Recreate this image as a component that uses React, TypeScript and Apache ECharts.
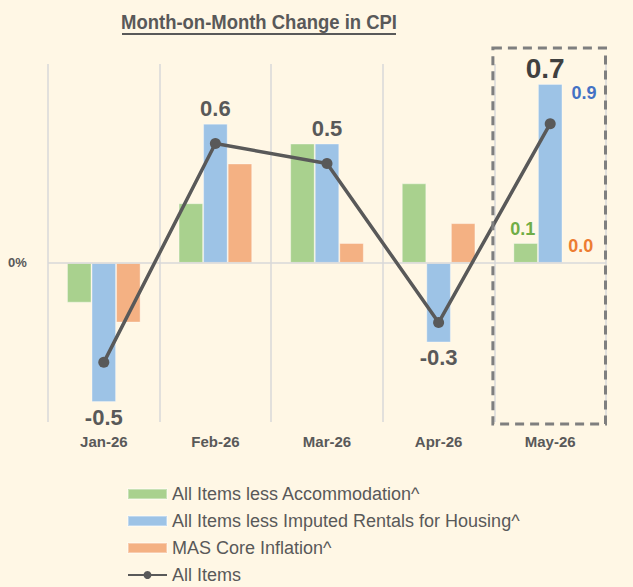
import React, { useEffect, useRef } from "react";
import * as echarts from "echarts";

const categories = ["Jan-26", "Feb-26", "Mar-26", "Apr-26", "May-26"];
const lessAccommodation = [-0.2, 0.3, 0.6, 0.4, 0.1];
const lessImputedRentals = [-0.7, 0.7, 0.6, -0.4, 0.9];
const masCore = [-0.3, 0.5, 0.1, 0.2, 0.0];
const allItems = [-0.5, 0.6, 0.5, -0.3, 0.7];

const seriesNames = [
  "All Items less Accommodation^",
  "All Items less Imputed Rentals for Housing^",
  "MAS Core Inflation^",
  "All Items",
];

const FONT = "'Liberation Sans', Arial, sans-serif";
const GRAY = "#595959";
const GREEN = "#A9D18E";
const BLUE = "#9DC3E6";
const ORANGE = "#F4B183";

export default function App() {
  const ref = useRef<HTMLDivElement>(null);

  useEffect(() => {
    document.body.style.margin = "0";
    if (!ref.current) return;
    const chart = echarts.init(ref.current, null, { renderer: "svg" });
    const last = categories.length - 1;

    const blueData = lessImputedRentals.map((v, i) => {
      if (i < last) {
        return {
          value: v,
          label: {
            show: true,
            position: v >= 0 ? "top" : "bottom",
            distance: 4,
            formatter: () => allItems[i].toFixed(1),
            color: GRAY,
            fontSize: 22,
            fontWeight: "bold",
            fontFamily: FONT,
          },
        };
      }
      return {
        value: v,
        label: {
          show: true,
          position: ["100%", 0],
          offset: [9, 0],
          formatter: () => v.toFixed(1),
          color: "#4472C4",
          fontSize: 18,
          fontWeight: "bold",
          fontFamily: FONT,
        },
      };
    });

    const greenData = lessAccommodation.map((v, i) =>
      i === last
        ? {
            value: v,
            label: {
              show: true,
              position: "top",
              distance: 5,
              formatter: () => v.toFixed(1),
              color: "#70AD47",
              fontSize: 18,
              fontWeight: "bold",
              fontFamily: FONT,
              offset: [-3, 0],
            },
          }
        : v
    );

    const orangeData = masCore.map((v, i) =>
      i === last
        ? {
            value: v,
            label: {
              show: true,
              position: "top",
              distance: 7,
              formatter: () => v.toFixed(1),
              color: "#ED7D31",
              fontSize: 18,
              fontWeight: "bold",
              fontFamily: FONT,
              offset: [6, 0],
            },
          }
        : v
    );

    const lineData = allItems.map((v, i) =>
      i === last
        ? {
            value: v,
            label: {
              show: true,
              position: "top",
              distance: 36,
              formatter: () => v.toFixed(1),
              color: "#404040",
              fontSize: 28,
              fontWeight: "bold",
              fontFamily: FONT,
              offset: [-5, 0],
            },
          }
        : v
    );

    chart.setOption({
      animation: false,
      backgroundColor: "#FFF7E5",
      textStyle: { fontFamily: FONT },
      grid: { left: 48, right: 27, top: 64, bottom: 165, containLabel: false },
      graphic: [
        {
          type: "text",
          id: "title",
          x: 259,
          y: 22,
          scaleX: 0.88,
          style: {
            text: "Month-on-Month Change in CPI",
            font: `bold 21px ${FONT}`,
            fill: GRAY,
            textAlign: "center",
            textVerticalAlign: "middle",
          },
        },
        {
          type: "line",
          id: "underline",
          shape: { x1: 122, y1: 34, x2: 396, y2: 34 },
          style: { stroke: GRAY, lineWidth: 2 },
        },
      ],
      legend: {
        orient: "vertical",
        left: 127,
        top: 484,
        padding: 0,
        height: 103,
        itemWidth: 39,
        itemHeight: 10,
        itemGap: 7,
        textStyle: { color: GRAY, fontSize: 18, fontFamily: FONT, lineHeight: 20 },
        data: [
          { name: seriesNames[0], icon: "rect" },
          { name: seriesNames[1], icon: "rect" },
          { name: seriesNames[2], icon: "rect" },
          { name: seriesNames[3] },
        ],
      },
      xAxis: {
        type: "category",
        data: categories,
        boundaryGap: true,
        axisLine: { show: false, onZero: false },
        axisTick: { show: false },
        axisLabel: {
          color: GRAY,
          fontSize: 15,
          fontWeight: "bold",
          fontFamily: FONT,
          margin: 12,
        },
        splitLine: {
          show: true,
          interval: 0,
          lineStyle: { color: "#D9D9D9", width: 1.5 },
        },
      },
      yAxis: {
        type: "value",
        min: -0.8,
        max: 1.0,
        interval: 0.2,
        axisLine: { show: false },
        axisTick: { show: false },
        splitLine: { show: false },
        axisLabel: {
          align: "left",
          margin: 40,
          color: GRAY,
          fontSize: 13,
          fontWeight: "bold",
          fontFamily: FONT,
          formatter: (v: number) => (Math.abs(v) < 1e-9 ? "0%" : ""),
        },
      },
      series: [
        {
          name: seriesNames[0],
          type: "bar",
          data: greenData,
          barGap: "0%",
          barCategoryGap: "34%",
          itemStyle: { color: GREEN, borderColor: "rgba(255,255,255,0.35)", borderWidth: 1 },
          markLine: {
            silent: true,
            symbol: "none",
            animation: false,
            label: { show: false },
            lineStyle: { color: "#D9D9D9", type: "solid", width: 1.5 },
            data: [{ yAxis: 0 }],
          },
        },
        {
          name: seriesNames[1],
          type: "bar",
          data: blueData,
          barGap: "0%",
          barCategoryGap: "34%",
          itemStyle: { color: BLUE, borderColor: "rgba(255,255,255,0.35)", borderWidth: 1 },
        },
        {
          name: seriesNames[2],
          type: "bar",
          data: orangeData,
          barGap: "0%",
          barCategoryGap: "34%",
          itemStyle: { color: ORANGE, borderColor: "rgba(255,255,255,0.35)", borderWidth: 1 },
        },
        {
          name: seriesNames[3],
          type: "line",
          data: lineData,
          z: 5,
          symbol: "circle",
          symbolSize: 11,
          lineStyle: { color: GRAY, width: 3.5 },
          itemStyle: { color: GRAY },
        },
      ],
    });

    // Dashed highlight box around the last category, positioned via the axes
    const pMay = chart.convertToPixel({ gridIndex: 0 }, [categories[last], 1.0]) as number[];
    const pApr = chart.convertToPixel({ gridIndex: 0 }, [categories[last - 1], -0.8]) as number[];
    const band = pMay[0] - pApr[0];
    const left = pMay[0] - band / 2 - 1.5;
    const right = pMay[0] + band / 2 - 0.5;
    const top = pMay[1] - 16;
    const bottom = pApr[1] + 2;
    chart.setOption({
      graphic: [
        {
          type: "rect",
          id: "highlight",
          z: 10,
          shape: { x: left, y: top, width: right - left, height: bottom - top },
          style: { fill: "none", stroke: "#7F7F7F", lineWidth: 3, lineDash: [9, 6] },
        },
      ],
    });

    return () => chart.dispose();
  }, []);

  return <div ref={ref} style={{ width: 633, height: 587 }} />;
}
